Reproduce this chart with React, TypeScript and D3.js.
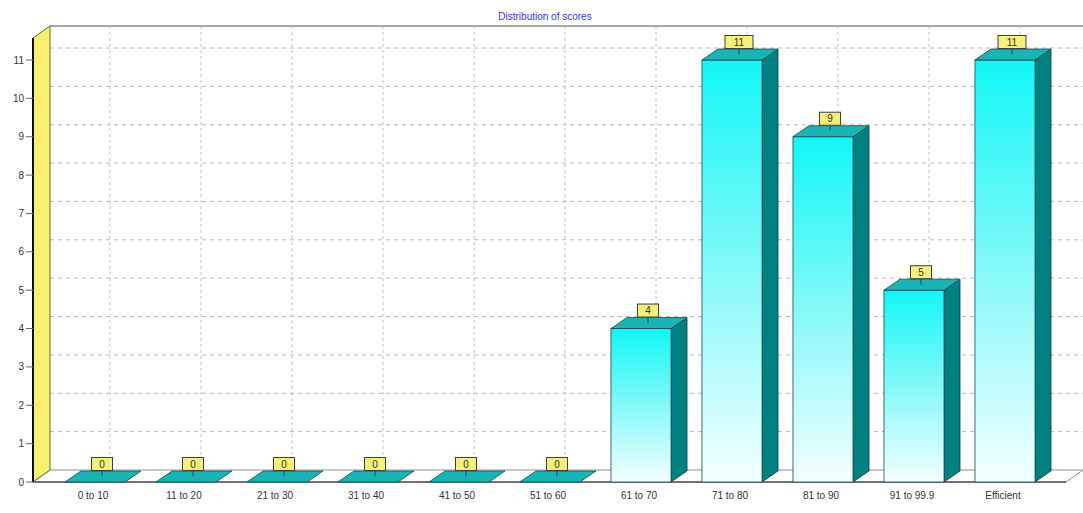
import * as d3 from "d3";

const categories = [
  "0 to 10",
  "11 to 20",
  "21 to 30",
  "31 to 40",
  "41 to 50",
  "51 to 60",
  "61 to 70",
  "71 to 80",
  "81 to 90",
  "91 to 99.9",
  "Efficient",
];
const counts = [0, 0, 0, 0, 0, 0, 4, 11, 9, 5, 11];
const yTicks = [0, 1, 2, 3, 4, 5, 6, 7, 8, 9, 10, 11];
const title = "Distribution of scores";

const W = 1083;
const H = 513;
// front plane & 3D depth
const left = 33;
const right = 1066;
const base = 482;
const topY = 38;
const dx = 17;
const dy = 12;
const barDx = 16;
const barDy = 11;
const font = "'Liberation Sans', Arial, sans-serif";

export default function App() {
  const x = d3
    .scaleBand<string>()
    .domain(categories)
    .range([49.5, 1050.5])
    .paddingInner(0.34)
    .paddingOuter(0.17);
  const y = d3.scaleLinear().domain([0, 11]).range([base, 60]);
  const bw = x.bandwidth();
  const pts = (p: [number, number][]) => p.map((d) => d.join(",")).join(" ");

  return (
    <svg
      width={W}
      height={H}
      style={{ position: "absolute", left: 0, top: 0, background: "#fff" }}
    >
      <defs>
        <linearGradient id="front" x1="0" y1="0" x2="0" y2="1">
          <stop offset="0%" stopColor="#12f6f6" />
          <stop offset="55%" stopColor="#8ff9f9" />
          <stop offset="100%" stopColor="#f4ffff" />
        </linearGradient>
      </defs>

      <text
        x={545}
        y={20}
        textAnchor="middle"
        fontFamily={font}
        fontSize={10}
        fill="#3434f0"
      >
        {title}
      </text>

      {/* back wall */}
      <line x1={left + dx} x2={W} y1={topY - dy} y2={topY - dy} stroke="#8a8a8a" strokeWidth={1.5} />

      {/* back wall gridlines */}
      {yTicks.slice(1).map((t) => (
        <line
          key={"h" + t}
          x1={left + dx}
          x2={W}
          y1={y(t) - dy}
          y2={y(t) - dy}
          stroke="#b8b8b8"
          strokeDasharray="4,4"
        />
      ))}
      {categories.map((c) => (
        <line
          key={"v" + c}
          x1={x(c)! + bw / 2 + 15}
          x2={x(c)! + bw / 2 + 15}
          y1={topY - dy}
          y2={base - dy}
          stroke="#c0c0c0"
          strokeDasharray="3,3"
        />
      ))}

      {/* floor */}
      <polygon
        points={pts([
          [left, base],
          [right, base],
          [right + dx, base - dy],
          [left + dx, base - dy],
        ])}
        fill="#fff"
        stroke="#909090"
      />
      <line x1={left} x2={right} y1={base} y2={base} stroke="#707080" strokeWidth={2} />

      {/* left wall */}
      <polygon
        points={pts([
          [left, base],
          [left, topY],
          [left + dx, topY - dy],
          [left + dx, base - dy],
        ])}
        fill="#f6f06c"
        stroke="#6a6a30"
        strokeWidth={1}
      />
      <line x1={left} x2={left} y1={topY} y2={base} stroke="#111" strokeWidth={2} />

      {/* y axis */}
      {yTicks.map((t) => (
        <g key={"y" + t}>
          <line x1={26} x2={left} y1={y(t)} y2={y(t)} stroke="#666" />
          <text
            x={24}
            y={y(t) + 3.5}
            textAnchor="end"
            fontFamily={font}
            fontSize={10}
            fill="#333"
          >
            {t}
          </text>
        </g>
      ))}

      {/* bars */}
      {categories.map((c, i) => {
        const v = counts[i];
        const bx = x(c)!;
        const yt = y(v);
        const topFace = pts([
          [bx, yt],
          [bx + barDx, yt - barDy],
          [bx + bw + barDx, yt - barDy],
          [bx + bw, yt],
        ]);
        const label = String(v);
        const boxW = label.length > 1 ? 28 : 21;
        const cx = bx + bw / 2 + 7;
        const midY = yt - barDy / 2;
        const boxB = midY - 6;
        return (
          <g key={c}>
            {v > 0 && (
              <>
                <polygon
                  points={pts([
                    [bx + bw, yt],
                    [bx + bw + barDx, yt - barDy],
                    [bx + bw + barDx, base - barDy],
                    [bx + bw, base],
                  ])}
                  fill="#008080"
                  stroke="#004848"
                  strokeWidth={0.8}
                />
                <rect
                  x={bx}
                  y={yt}
                  width={bw}
                  height={base - yt}
                  fill="url(#front)"
                  stroke="#1a4a50"
                  strokeWidth={0.8}
                />
              </>
            )}
            <polygon points={topFace} fill="#1ab4b4" stroke="#0a4a4a" strokeWidth={0.8} />
            <line x1={cx} x2={cx} y1={boxB} y2={midY} stroke="#1a3a8a" />
            <rect
              x={cx - boxW / 2}
              y={boxB - 13}
              width={boxW}
              height={13}
              fill="#f4f07a"
              stroke="#404040"
              strokeWidth={1}
            />
            <text
              x={cx}
              y={boxB - 3}
              textAnchor="middle"
              fontFamily={font}
              fontSize={10}
              fill="#333"
            >
              {label}
            </text>
            <text
              x={bx + bw / 2 - 2}
              y={499}
              textAnchor="middle"
              fontFamily={font}
              fontSize={10}
              fill="#333"
            >
              {c}
            </text>
          </g>
        );
      })}
    </svg>
  );
}
